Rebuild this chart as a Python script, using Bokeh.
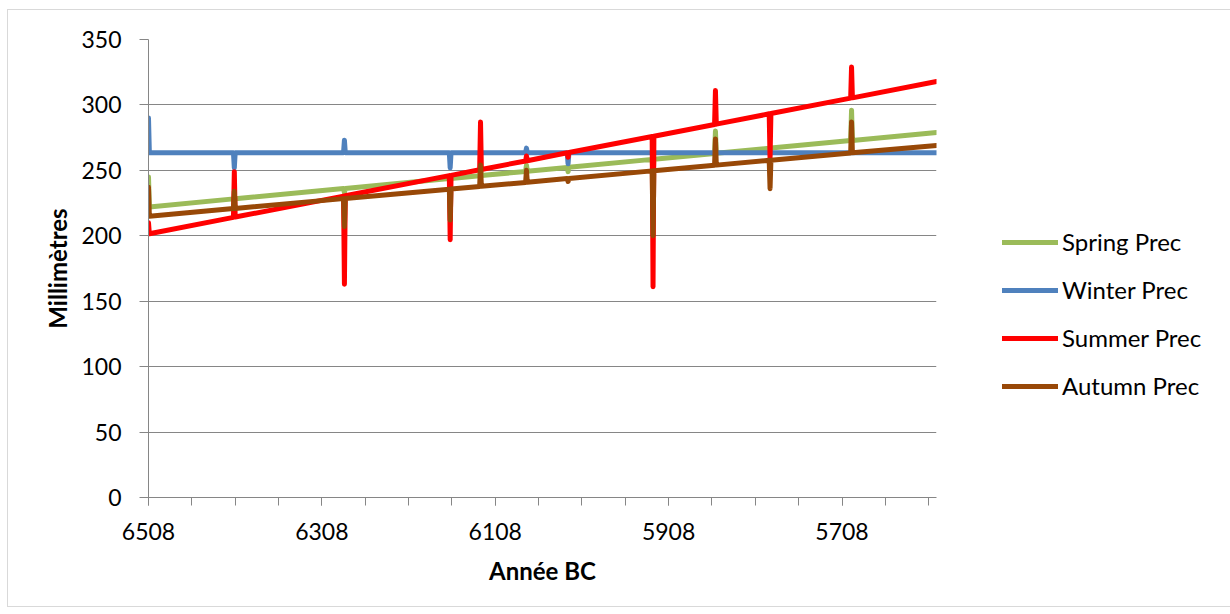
from bokeh.plotting import figure
from bokeh.models import Range1d, FixedTicker, Legend, LegendItem, ColumnDataSource
from bokeh.embed import file_html
from bokeh.resources import INLINE

years = [6508, 6507,
         6410, 6409, 6408,
         6283, 6282, 6281,
         6161, 6160, 6159,
         6126, 6125, 6124,
         6073, 6072, 6071,
         6025, 6024, 6023,
         5927, 5926, 5925,
         5855, 5854, 5853,
         5792, 5791, 5790,
         5698, 5697, 5696,
         5599]

spring = [245, 222,
          228.2, 229, 228.3,
          236.1, 233, 236.2,
          243.7, 240, 243.8,
          245.9, 251, 246.0,
          249.2, 254, 249.3,
          252.2, 249, 252.3,
          258.4, 245, 258.5,
          262.9, 280, 263.0,
          266.9, 262, 267.0,
          272.8, 296, 272.9,
          279]

winter = [290, 263.5,
          263.5, 252, 263.5,
          263.5, 273, 263.5,
          263.5, 252, 263.5,
          263.5, 263.5, 263.5,
          263.5, 267, 263.5,
          263.5, 255, 263.5,
          263.5, 263.5, 263.5,
          263.5, 263.5, 263.5,
          263.5, 263.5, 263.5,
          263.5, 263.5, 263.5,
          263.5]

summer = [210, 201.5,
          214.1, 249, 214.3,
          230.3, 163, 230.6,
          246.0, 197, 246.2,
          250.5, 287, 250.7,
          257.2, 261, 257.4,
          263.4, 260, 263.6,
          275.9, 161, 276.1,
          285.1, 311, 285.3,
          293.2, 259, 293.4,
          305.2, 329, 305.4,
          317.9]

autumn = [237, 215,
          220.8, 234, 220.9,
          228.4, 207, 228.5,
          235.6, 212, 235.7,
          237.7, 254, 237.8,
          240.8, 250, 240.9,
          243.7, 241.5, 243.8,
          249.6, 200, 249.7,
          253.9, 274, 254.0,
          257.7, 236, 257.8,
          263.3, 287, 263.4,
          269]

series_names = ["Spring Prec", "Winter Prec", "Summer Prec", "Autumn Prec"]
series_colors = ["#9BBB59", "#4F81BD", "#FF0000", "#984807"]

major_years = [6508, 6308, 6108, 5908, 5708]
minor_years = [6508 - 50 * i for i in range(19)]
y_ticks = [0, 50, 100, 150, 200, 250, 300, 350]

FONT = "Lato"
GRAY = "#868686"

p = figure(frame_width=788, frame_height=458,
           min_border_left=140, min_border_right=286, min_border_top=29, min_border_bottom=109,
           x_range=Range1d(6508, 5599), y_range=Range1d(0, 350),
           output_backend="svg", toolbar_location=None)
p.styles = {"margin-left": "7px", "margin-top": "9px", "border": "1px solid #D9D9D9"}
p.outline_line_color = None
p.background_fill_color = "white"
p.border_fill_color = "white"

src = ColumnDataSource(dict(x=years, spring=spring, winter=winter, summer=summer, autumn=autumn))
renderers = []
for key, name, col in zip(["spring", "winter", "summer", "autumn"], series_names, series_colors):
    r = p.line("x", key, source=src, line_color=col, line_width=5,
               line_join="round", line_cap="round")
    renderers.append(r)

# axes
p.xaxis.ticker = FixedTicker(ticks=major_years, minor_ticks=minor_years)
p.yaxis.ticker = FixedTicker(ticks=y_ticks)
for ax in (p.xaxis[0], p.yaxis[0]):
    ax.axis_line_color = GRAY
    ax.axis_line_width = 1
    ax.major_tick_line_color = GRAY
    ax.minor_tick_line_color = GRAY
    ax.major_tick_in = 0
    ax.minor_tick_in = 0
    ax.major_label_text_font = FONT
    ax.major_label_text_font_size = "23px"
    ax.major_label_text_color = "#000000"
    ax.axis_label_text_font = FONT
    ax.axis_label_text_font_size = "24px"
    ax.axis_label_text_font_style = "bold"
    ax.axis_label_text_color = "#000000"

p.xaxis.major_tick_out = 8
p.xaxis.minor_tick_out = 8
p.xaxis.major_label_standoff = 17
p.xaxis.axis_label = "Année BC"
p.xaxis.axis_label_standoff = 13

p.yaxis.major_tick_out = 9
p.yaxis.minor_tick_out = 0
p.yaxis.major_label_standoff = 18
p.yaxis.axis_label = "Millimètres"
p.yaxis.axis_label_standoff = 6

p.xgrid.grid_line_color = None
p.ygrid.ticker = FixedTicker(ticks=y_ticks)
p.ygrid.grid_line_color = GRAY
p.ygrid.grid_line_width = 1

legend = Legend(items=[LegendItem(label=n, renderers=[r]) for n, r in zip(series_names, renderers)],
                location=(66, 97))
legend.padding = 0
legend.margin = 0
legend.spacing = 19
legend.glyph_width = 56
legend.glyph_height = 20
legend.label_height = 20
legend.label_standoff = 4
legend.label_text_font = FONT
legend.label_text_font_size = "24px"
legend.label_text_color = "#000000"
legend.border_line_color = None
legend.background_fill_alpha = 0
p.add_layout(legend, "right")

open("out.html", "w").write(file_html(p, INLINE))
